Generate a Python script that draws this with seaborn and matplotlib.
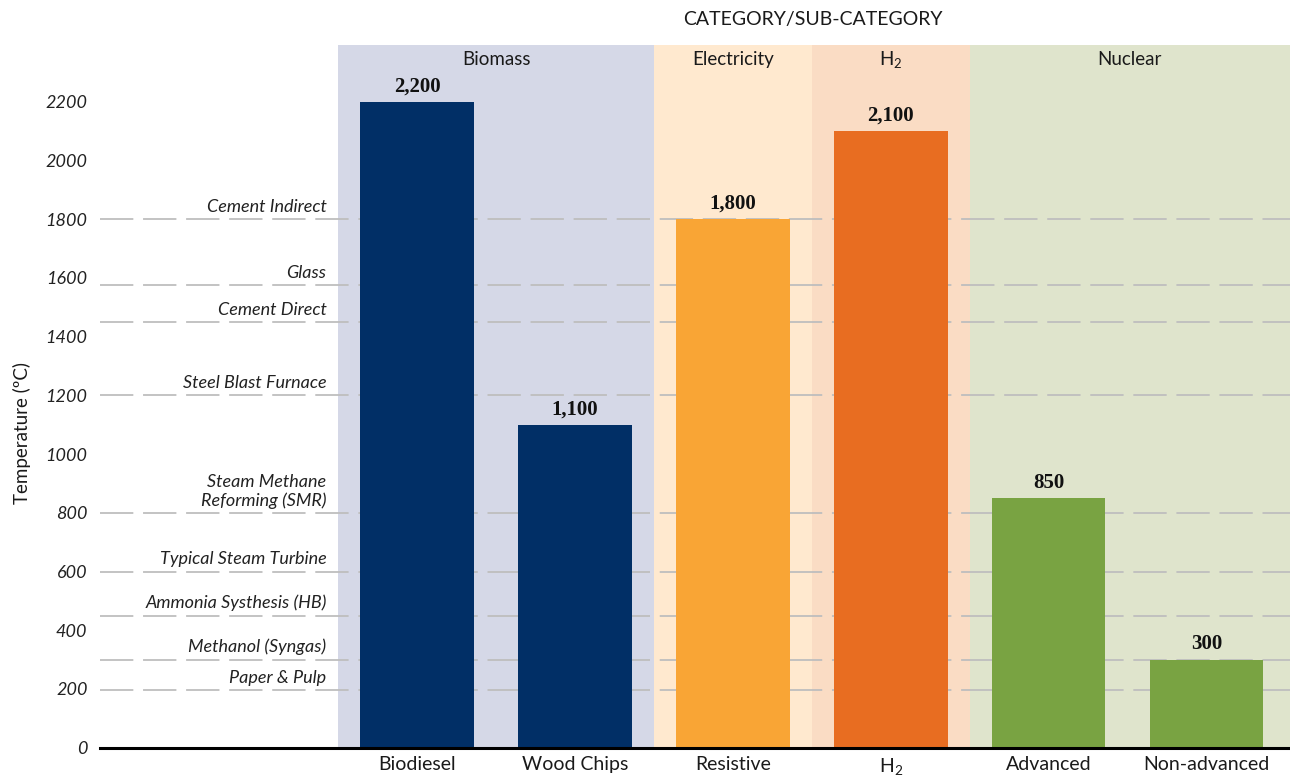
import matplotlib
matplotlib.use("Agg")
import matplotlib.pyplot as plt
import seaborn as sns
import pandas as pd

# ---- data ----
subcategories = ["Biodiesel", "Wood Chips", "Resistive", "H$_2$", "Advanced", "Non-advanced"]
temperatures = [2200, 1100, 1800, 2100, 850, 300]
value_labels = ["2,200", "1,100", "1,800", "2,100", "850", "300"]
bar_colors = ["#012F66", "#012F66", "#F9A535", "#E86D21", "#79A342", "#79A342"]

groups = ["Biomass", "Electricity", "H$_2$", "Nuclear"]
group_spans = [(-0.5, 1.5), (1.5, 2.5), (2.5, 3.5), (3.5, 6.0)]
group_colors = ["#D5D8E7", "#FFE9CF", "#FADCC4", "#DFE4CC"]

process_names = ["Cement Indirect", "Glass", "Cement Direct", "Steel Blast Furnace",
                 "Steam Methane\nReforming (SMR)", "Typical Steam Turbine",
                 "Ammonia Systhesis (HB)", "Methanol (Syngas)", "Paper & Pulp"]
process_temps = [1800, 1575, 1450, 1200, 800, 600, 450, 300, 195]

yticks = list(range(0, 2201, 200))

# ---- style ----
sns.set_theme(style="white")
plt.rcParams["font.family"] = ["Lato", "DejaVu Sans"]
plt.rcParams["mathtext.default"] = "regular"

fig = plt.figure(figsize=(12.9, 7.79), dpi=100)
ax = fig.add_axes([100 / 1290, 1 - 747.7 / 779, 1190 / 1290, (747.7 - 45) / 779])

df = pd.DataFrame({"sub": subcategories, "temp": temperatures})

sns.barplot(data=df, x="sub", y="temp", hue="sub", palette=bar_colors, legend=False,
            width=0.72, saturation=1, ax=ax, edgecolor="none", linewidth=0)
for p in ax.patches:
    p.set_zorder(3)

# background spans
for (x0, x1), c in zip(group_spans, group_colors):
    ax.axvspan(x0, x1, facecolor=c, edgecolor="none", zorder=0.5, lw=0)

# reference dashed lines
for t in process_temps:
    ax.axhline(t, color="#BEBEBE", lw=1.3, dashes=(24 / 1.3, 7 / 1.3), zorder=1.5)

ax.set_xlim(-2.01, 5.53)
ax.set_ylim(0, 2393)

# value labels
for i, (v, lab) in enumerate(zip(temperatures, value_labels)):
    ax.annotate(lab, (i, v), xytext=(0, 4), textcoords="offset points",
                ha="center", va="bottom", fontsize=15, fontweight="bold",
                family="Liberation Serif", color="#111111", zorder=4)

# group labels
for (x0, x1), g in zip(group_spans, groups):
    xc = (x0 + min(x1, 5.53)) / 2
    ax.text(xc, 2342, g, ha="center", va="center", fontsize=13.5, color="#1a1a1a", zorder=4)

# process labels
for name, t in zip(process_names, process_temps):
    ax.text(-0.575, t + 14, name, ha="right", va="bottom", fontsize=13,
            style="italic", color="#222222", linespacing=1.15, zorder=4)

ax.set_yticks(yticks)
ax.set_yticklabels([str(t) for t in yticks], style="italic", fontsize=13, color="#222222")
ax.tick_params(axis="y", length=0, pad=9)
ax.tick_params(axis="x", length=0, pad=6, labelsize=14, labelcolor="#1a1a1a")
ax.set_xlabel("")
ax.set_ylabel("")
ax.grid(False)

for s in ["left", "right", "top"]:
    ax.spines[s].set_visible(False)
ax.spines["bottom"].set_color("black")
ax.spines["bottom"].set_linewidth(2.2)
ax.spines["bottom"].set_zorder(5)

fig.text(813 / 1290, 1 - 20 / 779, "CATEGORY/SUB-CATEGORY", ha="center", va="center",
         fontsize=14, color="#1a1a1a")
fig.text(22 / 1290, 1 - 433 / 779, "Temperature (ºC)", rotation=90, ha="center",
         va="center", fontsize=13.5, color="#1a1a1a")

fig.savefig("out.png", dpi=100)
